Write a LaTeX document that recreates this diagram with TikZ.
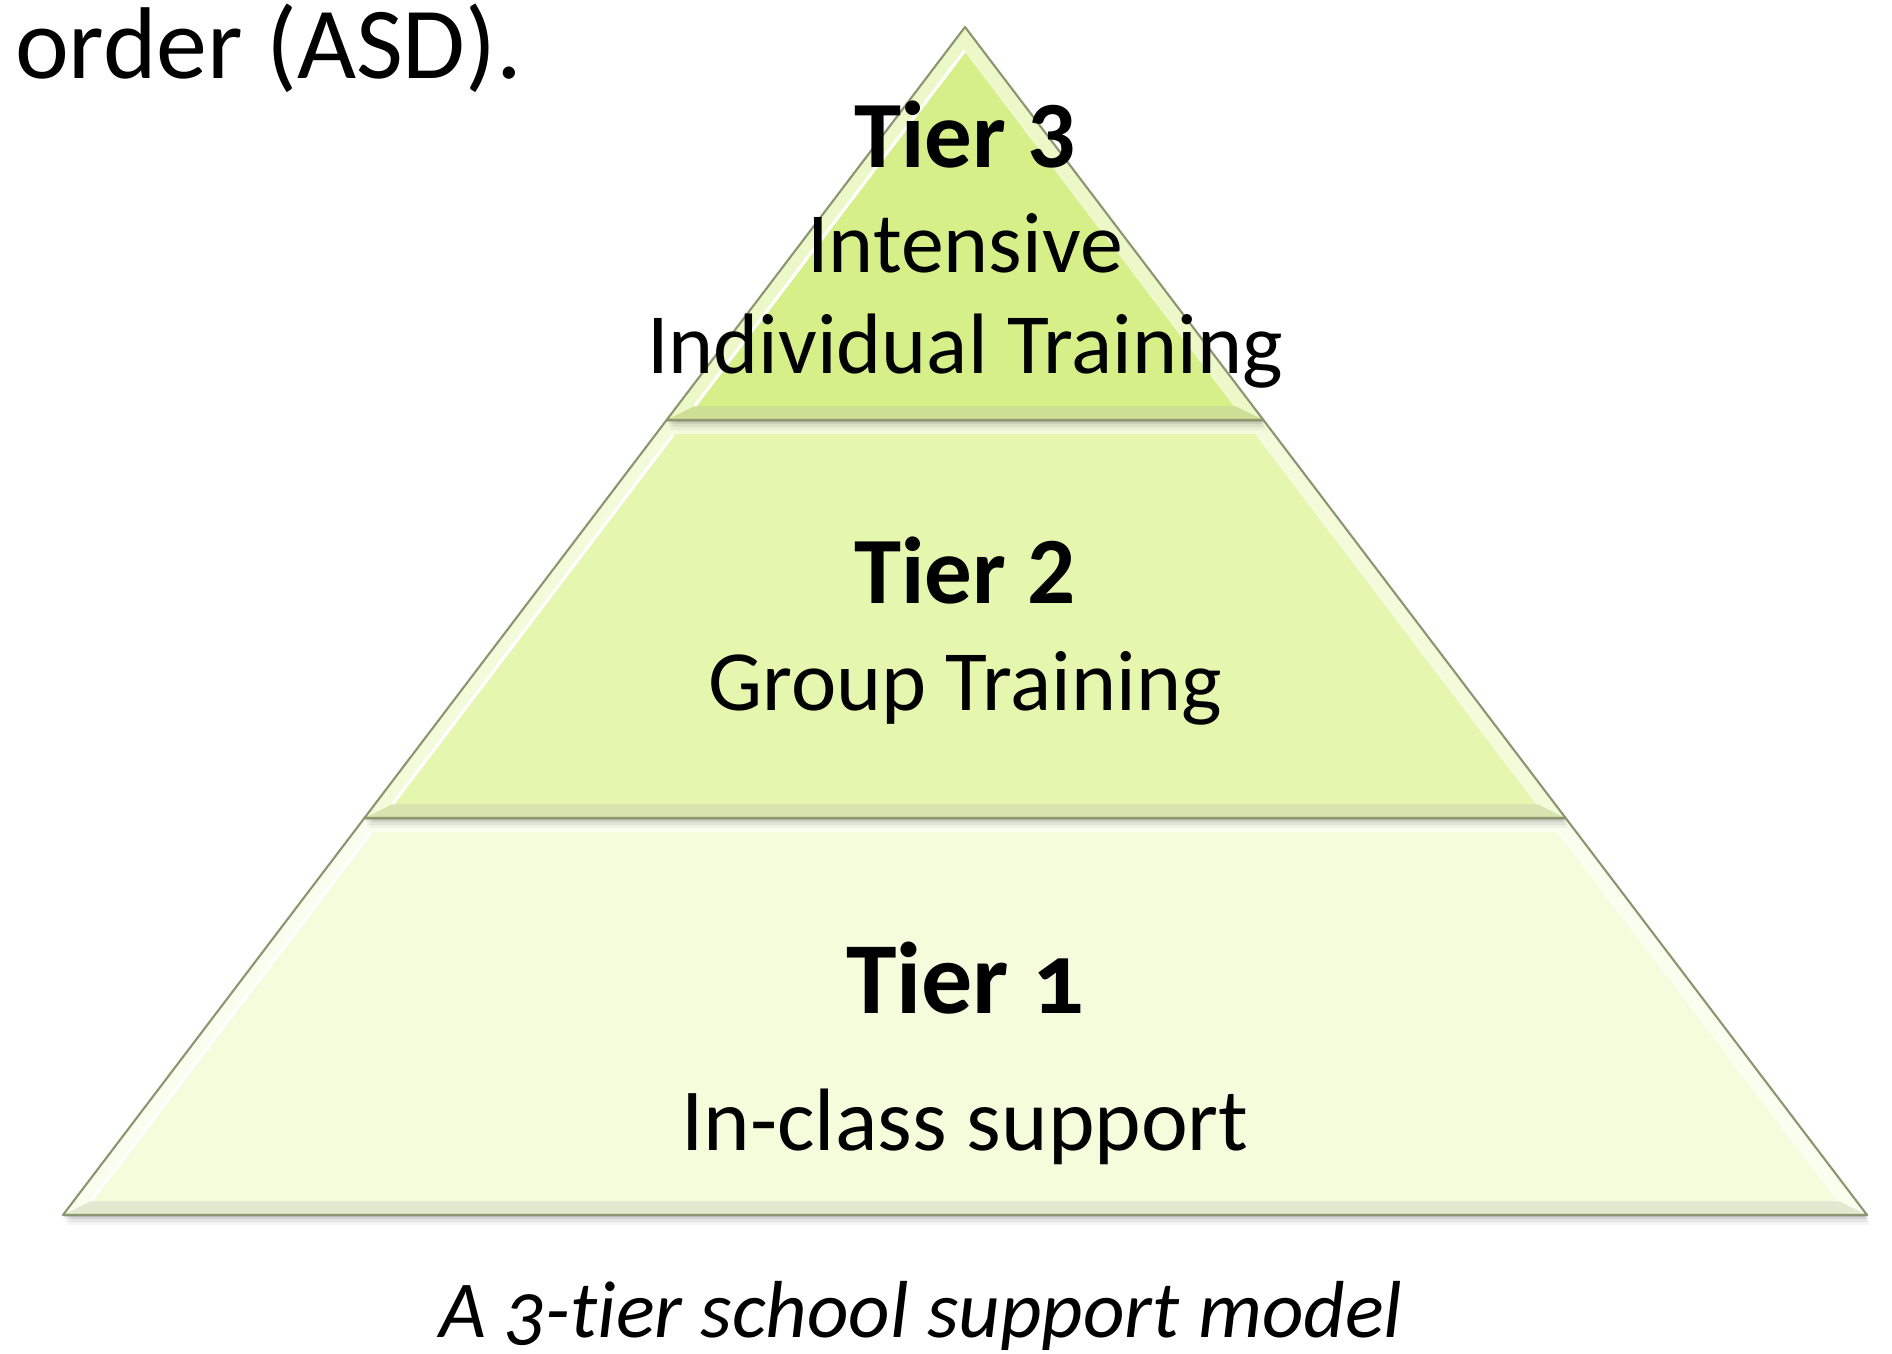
\documentclass[tikz,border=0pt]{standalone}
\usepackage{fontspec}
\setmainfont{Carlito}
\definecolor{tierthree}{HTML}{D6EF88}
\definecolor{tiertwo}{HTML}{E5F6AE}
\definecolor{tierone}{HTML}{F4FCDC}
\definecolor{tierline}{HTML}{8A9670}
\tikzset{
  tiertitle/.style={font=\bfseries\fontsize{27}{32}\selectfont, anchor=base},
  tiertext/.style={font=\fontsize{24.4}{29}\selectfont, anchor=base},
  tieredge/.style={draw=tierline, line width=0.6pt, line join=round}
}
% one bevelled slice of the pyramid: top y, bottom y, colour
\newcommand{\tierblock}[3]{%
  \pgfmathsetmacro\xtl{965-0.7593*(#1-27)}
  \pgfmathsetmacro\xtr{965+0.7593*(#1-27)}
  \pgfmathsetmacro\xbl{965-0.7593*(#2-27)}
  \pgfmathsetmacro\xbr{965+0.7593*(#2-27)}
  \pgfmathsetmacro\yti{max(#1+14,50)}
  \pgfmathsetmacro\ybi{#2-14}
  \pgfmathsetmacro\xtli{965-0.7593*(\yti-27)+17.6}
  \pgfmathsetmacro\xtri{965+0.7593*(\yti-27)-17.6}
  \pgfmathsetmacro\xbli{965-0.7593*(\ybi-27)+17.6}
  \pgfmathsetmacro\xbri{965+0.7593*(\ybi-27)-17.6}
  \foreach \s/\o in {10/0.04,7/0.06,4/0.08,2/0.1}
    \fill[black, opacity=\o, shift={(\s*0.3,\s)}] (\xtl,#1) -- (\xtr,#1) -- (\xbr,#2) -- (\xbl,#2) -- cycle;
  \fill[#3!45!white] (\xtl,#1) -- (\xtr,#1) -- (\xbr,#2) -- (\xbl,#2) -- cycle;
  \fill[#3!90!black!80] (\xbl,#2) -- (\xbr,#2) -- (\xbri,\ybi) -- (\xbli,\ybi) -- cycle;
  \fill[#3] (\xtli,\yti) -- (\xtri,\yti) -- (\xbri,\ybi) -- (\xbli,\ybi) -- cycle;
  \draw[white, line width=0.9pt] (\xbli,\ybi) -- (\xtli,\yti);
  \draw[white!60!#3, line width=0.6pt] (\xtri,\yti) -- (\xbri,\ybi);
  \draw[tieredge] (\xtl,#1) -- (\xtr,#1) -- (\xbr,#2) -- (\xbl,#2) -- cycle;
}

\begin{document}
\begin{tikzpicture}[x=0.01cm, y=-0.01cm]
\useasboundingbox (0,0) rectangle (1892,1353);

\tierblock{818}{1215}{tierone}
\tierblock{420}{818}{tiertwo}
\tierblock{27}{420}{tierthree}

\node[font=\fontsize{29}{34}\selectfont, anchor=base east, inner sep=0pt] (intro) at (523,78) {order (ASD).};

\node[tiertitle] (t3) at (965,167) {Tier 3};
\node[tiertext] (t3a) at (965,272) {Intensive};
\node[tiertext] (t3b) at (965,373) {Individual Training};

\node[tiertitle] (t2) at (965,603) {Tier 2};
\node[tiertext] (t2a) at (965,710) {Group Training};

\node[tiertitle, font=\bfseries\fontsize{29}{34}\selectfont\addfontfeature{Numbers=OldStyle}] (t1) at (965,1013) {Tier 1};
\node[tiertext, font=\fontsize{25.2}{30}\selectfont] (t1a) at (965,1150) {In-class support};

\node[font=\itshape\fontsize{23}{28}\selectfont\addfontfeature{Numbers=OldStyle,Ligatures=NoCommon}, anchor=base] (cap) at (921,1337) {A 3-tier school support model};
\end{tikzpicture}
\end{document}
